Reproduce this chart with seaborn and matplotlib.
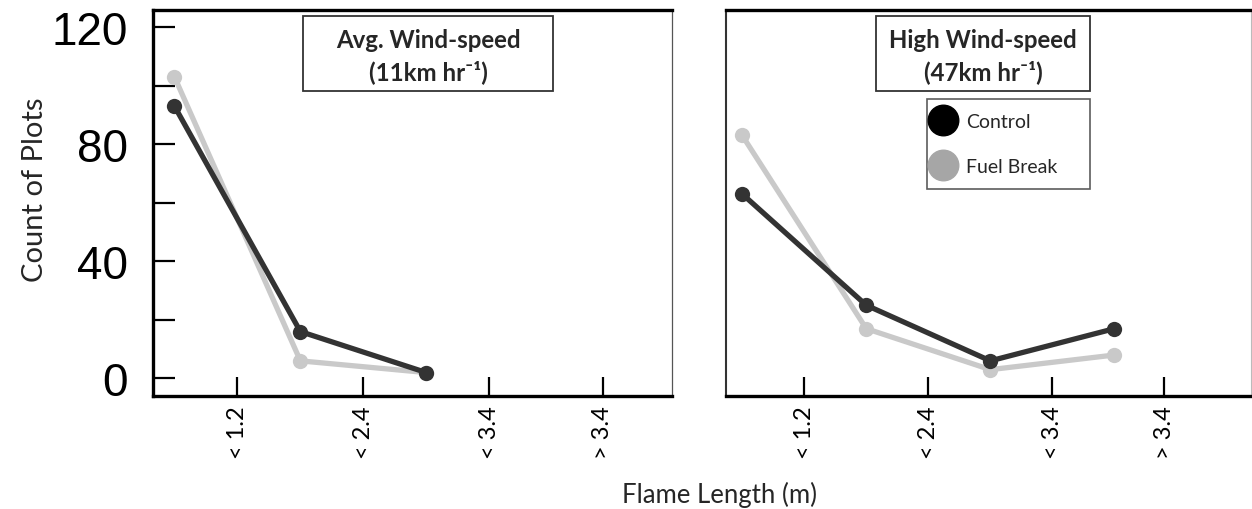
import numpy as np
import pandas as pd
import matplotlib
matplotlib.use("Agg")
import matplotlib.pyplot as plt
from matplotlib.lines import Line2D
from matplotlib.patches import Rectangle
import seaborn as sns

# ---- data ----
bins = ["< 1.2", "< 2.4", "< 3.4", "> 3.4"]
series = ["Control", "Fuel Break"]
avg_control = [93, 16, 2]
avg_fuel = [103, 6, 2]
high_control = [63, 25, 6, 17]
high_fuel = [83, 17, 3, 8]
y_ticks = [0, 20, 40, 60, 80, 100, 120]
y_labels = ["0", "", "40", "", "80", "", "120"]

sns.set_style("white")
plt.rcParams["font.family"] = ["Lato", "DejaVu Sans"]

W, H = 1252, 510
fig = plt.figure(figsize=(W / 100, H / 100), dpi=100)


def fx(px):
    return px / W


def fy(py):
    return 1 - py / H


ax1 = fig.add_axes([fx(153), fy(397), fx(672 - 153), (397 - 11) / H])
ax2 = fig.add_axes([fx(726), fy(397), fx(1251 - 726), (397 - 11) / H])

colors = {"Control": "#333333", "Fuel Break": "#c9c9c9"}
tick_pos = [0.5, 1.5, 2.5, 3.4]


def make_df(ctrl, fuel):
    rows = []
    for name, vals in (("Fuel Break", fuel), ("Control", ctrl)):
        for i, v in enumerate(vals):
            rows.append({"pos": i, "count": v, "treatment": name})
    return pd.DataFrame(rows)


for ax, ctrl, fuel, xlim in ((ax1, avg_control, avg_fuel, (-0.17, 3.95)),
                             (ax2, high_control, high_fuel, (-0.13, 4.1))):
    df = make_df(ctrl, fuel)
    for name in ("Fuel Break", "Control"):
        sub = df[df["treatment"] == name]
        sns.lineplot(data=sub, x="pos", y="count", ax=ax, color=colors[name],
                     marker="o", markersize=11, markeredgewidth=0,
                     linewidth=3.8, legend=False, zorder=3 if name == "Control" else 2)
    ax.set_xlim(*xlim)
    ax.set_ylim(-6, 125.8)
    ax.set_xlabel("")
    ax.set_ylabel("")
    ax.set_xticks(tick_pos)
    ax.set_xticklabels(bins, rotation=90, fontsize=17)
    ax.tick_params(axis="x", direction="in", length=14, width=1.6, pad=7,
                   colors="black", bottom=True)
    for side in ("top", "bottom"):
        ax.spines[side].set_linewidth(2.4)
        ax.spines[side].set_color("black")

# left panel y axis
ax1.set_yticks(y_ticks)
ax1.set_yticklabels(y_labels, fontsize=33, family=["Liberation Sans"])
ax1.tick_params(axis="y", direction="in", length=16, width=1.6, pad=18,
                left=True, colors="black")
ax1.spines["left"].set_linewidth(2.4)
ax1.spines["left"].set_color("black")
ax1.spines["right"].set_linewidth(0.9)
ax1.spines["right"].set_color("#555555")

ax2.set_yticks([])
ax2.spines["left"].set_linewidth(1.5)
ax2.spines["left"].set_color("#333333")
ax2.spines["right"].set_linewidth(0.8)
ax2.spines["right"].set_color("#bbbbbb")

# axis labels
fig.text(fx(35), fy(190), "Count of Plots", rotation=90, ha="center",
         va="center", fontsize=21)
fig.text(fx(719), fy(495), "Flame Length (m)", ha="center", va="center",
         fontsize=18.5)

# title boxes
for (x0, x1, l1, l2) in ((303, 553, "Avg. Wind-speed", "(11km hr\u207b\u00b9)"),
                         (876, 1090, "High Wind-speed", "(47km hr\u207b\u00b9)")):
    fig.add_artist(Rectangle((fx(x0), fy(92)), fx(x1 - x0), (92 - 17) / H,
                             transform=fig.transFigure, fill=False,
                             lw=1.3, ec="#333333"))
    cx = fx((x0 + x1) / 2)
    fig.text(cx, fy(41), l1, ha="center", va="center", fontsize=17.3,
             fontweight="bold")
    fig.text(cx, fy(72), l2, ha="center", va="center", fontsize=17.3,
             fontweight="bold")

# legend
handles = [Line2D([], [], marker="o", ls="", ms=22, color="black"),
           Line2D([], [], marker="o", ls="", ms=22, color="#a6a6a6")]
leg = ax2.legend(handles, series, loc="upper left",
                 bbox_to_anchor=(fx(927), fy(100), fx(1090 - 927), 0.0),
                 bbox_transform=fig.transFigure, mode="expand",
                 frameon=True, fancybox=False, fontsize=14,
                 handlelength=0.2, handletextpad=1.1, borderpad=0.72,
                 labelspacing=1.45, borderaxespad=0)
leg.get_frame().set_edgecolor("#333333")
leg.get_frame().set_linewidth(1.2)

fig.savefig("out.png", dpi=100)
